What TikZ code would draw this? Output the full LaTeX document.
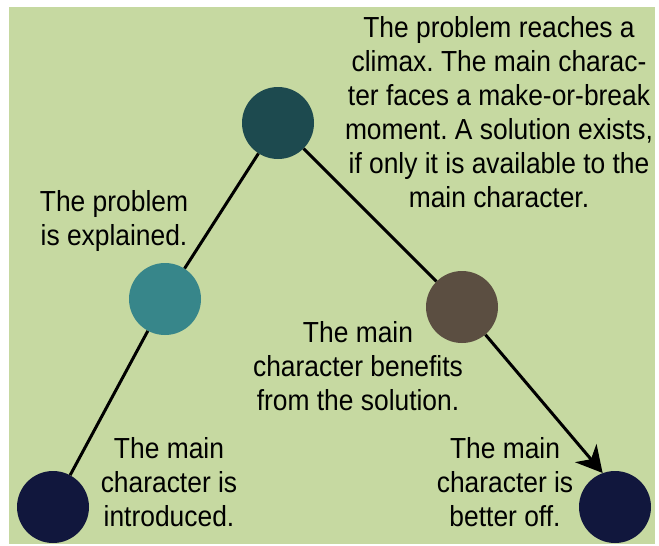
\documentclass[tikz,border=0pt]{standalone}
\usepackage{fontspec}
\setmainfont[FakeStretch=0.91]{Liberation Sans}
\usetikzlibrary{arrows.meta}
\definecolor{bg}{HTML}{C6D9A1}
\definecolor{ctop}{HTML}{1D4A4F}
\definecolor{cml}{HTML}{37868A}
\definecolor{cmr}{HTML}{5B4E41}
\definecolor{cbot}{HTML}{11173D}
\frenchspacing
\begin{document}
\begin{tikzpicture}[x=1pt,y=-1pt,
  dot/.style={circle,minimum size=72pt,inner sep=0pt,draw=none},
  lbl/.style={align=center,inner sep=0pt,anchor=base,
    font=\fontsize{29pt}{34pt}\selectfont},
  link/.style={line width=3pt,black}]
\useasboundingbox (0,0) rectangle (659,546);
\fill[bg] (9,7) rectangle (655,544);
\node[dot,fill=ctop] (top) at (278,123) {};
\node[dot,fill=cml] (ml) at (165,299) {};
\node[dot,fill=cmr] (mr) at (462,307) {};
\node[dot,fill=cbot] (bl) at (53,507) {};
\node[dot,fill=cbot] (br) at (615,507) {};
\draw[link] (bl) -- (ml);
\draw[link] (ml) -- (top);
\draw[link] (top) -- (mr);
\draw[link,-{Stealth[length=26pt,width=28pt,inset=8pt]}] (mr) -- (br.110);
\node[lbl] (t1) at (499,207) {The problem reaches a\\climax. The main charac-\\ter faces a make-or-break\\moment. A solution exists,\\if only it is available to the\\main character.};
\node[lbl] (t2) at (114,245) {The problem\\is explained.};
\node[lbl] (t3) at (358,410) {The main\\character benefits\\from the solution.};
\node[lbl] (t4) at (169,526) {The main\\character is\\introduced.};
\node[lbl] (t5) at (505,526) {The main\\character is\\better off.};
\end{tikzpicture}
\end{document}
